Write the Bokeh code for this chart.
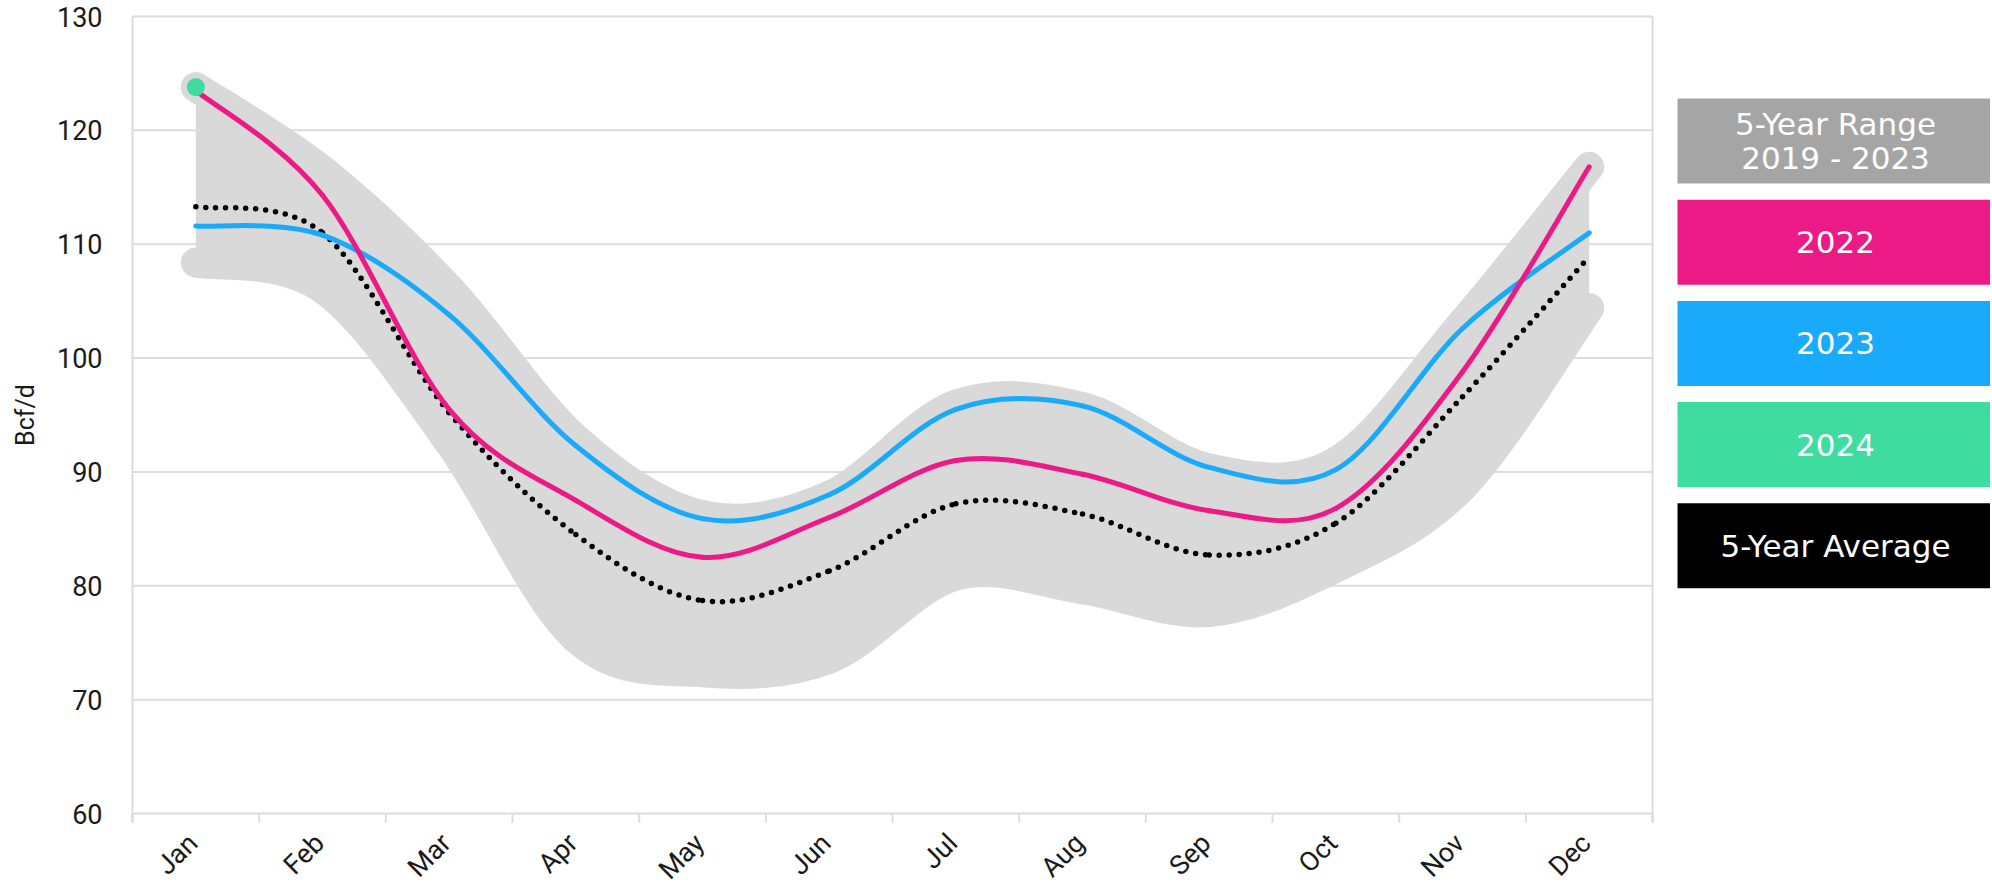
import math
from bokeh.plotting import figure
from bokeh.models import Range1d, ColumnDataSource
from bokeh.embed import file_html
from bokeh.resources import INLINE
from bokeh.core.properties import value

# ---------------- data ----------------
months = ["Jan", "Feb", "Mar", "Apr", "May", "Jun", "Jul", "Aug", "Sep", "Oct", "Nov", "Dec"]
range_max = [123.8, 116.5, 106.1, 92.9, 86.2, 87.9, 95.9, 95.7, 90.3, 90.9, 103.1, 116.8]
range_min = [108.4, 106.1, 92.6, 75.4, 72.4, 73.6, 80.9, 79.7, 77.7, 81.6, 88.7, 104.4]
avg_5yr = [113.3, 111.0, 95.2, 84.5, 78.7, 81.3, 87.2, 86.3, 82.7, 85.5, 96.6, 108.9]
y2022 = [123.5, 114.3, 95.5, 87.5, 82.5, 86.0, 91.0, 89.8, 86.6, 86.8, 98.8, 116.8]
y2023 = [111.6, 110.8, 103.8, 92.3, 85.9, 88.0, 95.5, 95.8, 90.4, 90.2, 102.6, 111.0]
y2024 = [123.8]
y_ticks = [60, 70, 80, 90, 100, 110, 120, 130]
y_tick_labels = [str(v) for v in y_ticks]
y_title = "Bcf/d"
legend_labels = ["5-Year Range\n2019 - 2023", "2022", "2023", "2024", "5-Year Average"]

# ---------------- styles / layout constants ----------------
BAND = "#d9d9d9"
PINK = "#ec1a86"
BLUE = "#1aaafb"
GREEN = "#3edc9e"
legend_colors = ["#a5a5a5", PINK, BLUE, GREEN, "#000000"]
AXIS_FONT = "Roboto"
GRID = "#dcdcdc"
TXT = "#1a1a1a"

W, H = 1990, 888
CHART_L, CHART_T = 132, 16     # pixel position of the chart's top-left corner
PX_X = 126.67                  # pixels per month
PX_Y = 11.386                  # pixels per Bcf/d
Y_MIN_AX, Y_MAX_AX = 60, 130
x_lo = -CHART_L / PX_X
x_hi = (W - CHART_L) / PX_X
y_hi = Y_MAX_AX + CHART_T / PX_Y
y_lo = Y_MAX_AX - (H - CHART_T) / PX_Y

def dx(px):
    return px / PX_X

def dy(px):
    return px / PX_Y

xc = [i + 0.5 for i in range(len(months))]
bounds = list(range(len(months) + 1))
n_m = len(months)


def bezier_source(xs, ys):
    """Cubic Bezier segments (Catmull-Rom control points) through the data points."""
    n = len(xs)
    d = dict(x0=[], y0=[], x1=[], y1=[], cx0=[], cy0=[], cx1=[], cy1=[])
    for i in range(n - 1):
        xp, yp = (xs[i - 1], ys[i - 1]) if i > 0 else (xs[i], ys[i])
        xn, yn = (xs[i + 2], ys[i + 2]) if i + 2 < n else (xs[i + 1], ys[i + 1])
        d["x0"].append(xs[i]); d["y0"].append(ys[i])
        d["x1"].append(xs[i + 1]); d["y1"].append(ys[i + 1])
        d["cx0"].append(xs[i] + (xs[i + 1] - xp) / 6.0)
        d["cy0"].append(ys[i] + (ys[i + 1] - yp) / 6.0)
        d["cx1"].append(xs[i + 1] - (xn - xs[i]) / 6.0)
        d["cy1"].append(ys[i + 1] - (yn - ys[i]) / 6.0)
    return ColumnDataSource(d)


BZ = dict(x0="x0", y0="y0", x1="x1", y1="y1", cx0="cx0", cy0="cy0", cx1="cx1", cy1="cy1")

p = figure(width=W, height=H, x_range=Range1d(x_lo, x_hi), y_range=Range1d(y_lo, y_hi),
           output_backend="svg", toolbar_location=None, min_border=0)
p.background_fill_color = "white"
p.border_fill_color = "white"
p.outline_line_color = None
p.axis.visible = False
p.grid.grid_line_color = None

# grid lines and frame borders of the chart area
p.segment(x0=[0] * len(y_ticks), x1=[n_m] * len(y_ticks), y0=y_ticks, y1=y_ticks,
          line_color=GRID, line_width=2)
p.segment(x0=[0, n_m], x1=[0, n_m], y0=[Y_MIN_AX - dy(9)] * 2, y1=[Y_MAX_AX] * 2,
          line_color=GRID, line_width=2)
# boundary ticks below the x axis
p.segment(x0=bounds, x1=bounds, y0=[Y_MIN_AX] * len(bounds), y1=[Y_MIN_AX - dy(9)] * len(bounds),
          line_color=GRID, line_width=2)

# band (5-year range)
p.varea(x=xc, y1=range_min, y2=range_max, fill_color=BAND, fill_alpha=1.0)
for ser in (range_max, range_min):
    p.bezier(**BZ, source=bezier_source(xc, ser), line_color=BAND, line_width=30,
             line_cap="round", line_join="round")

# 5-year average dotted
p.bezier(**BZ, source=bezier_source(xc, avg_5yr), line_color="black", line_width=5.5,
         line_dash="0 10", line_cap="round")
# 2023
p.bezier(**BZ, source=bezier_source(xc, y2023), line_color=BLUE, line_width=5, line_cap="round")
# 2022
p.bezier(**BZ, source=bezier_source(xc, y2022), line_color=PINK, line_width=5, line_cap="round")
# 2024
p.scatter(x=xc[:len(y2024)], y=y2024, size=18, fill_color=GREEN, line_color=None)

# month labels (rotated 45 degrees)
p.text(x=[x + dx(-3) for x in xc], y=[Y_MIN_AX - dy(25)] * n_m, text=months, angle=math.pi / 4,
       text_align="right", text_baseline="middle", text_color=TXT,
       text_font=value(AXIS_FONT), text_font_size="27px")

# y tick labels
p.text(x=[dx(-30)] * len(y_ticks), y=y_ticks, text=y_tick_labels,
       text_align="right", text_baseline="middle", text_color=TXT,
       text_font=value(AXIS_FONT), text_font_size="27px")
# y axis title
p.text(x=[dx(25 - CHART_L)], y=[(Y_MIN_AX + Y_MAX_AX) / 2], text=[y_title], angle=math.pi / 2,
       text_align="center", text_baseline="middle", text_color=TXT,
       text_font=value(AXIS_FONT), text_font_size="25px")

# ---------------- legend (boxes to the right of the chart) ----------------
LEG_LEFT_PX = 1545          # from the chart's left edge
LEG_TOP_PX = 82             # from the chart's top edge
LEG_STEP_PX = 101.2
LEG_H_PX = 85
LEG_TEXT_X_PX = 1703
tops = [Y_MAX_AX - dy(LEG_TOP_PX + LEG_STEP_PX * i) for i in range(len(legend_labels))]
p.quad(left=[dx(LEG_LEFT_PX)] * len(legend_labels), right=[x_hi + 1] * len(legend_labels),
       top=tops, bottom=[t - dy(LEG_H_PX) for t in tops],
       fill_color=legend_colors, line_color=None)
p.text(x=[dx(LEG_TEXT_X_PX)] * len(legend_labels), y=[t - dy(LEG_H_PX / 2) for t in tops],
       text=legend_labels, text_color="white", text_font=value("DejaVu Sans"),
       text_font_size="31px", text_align="center", text_baseline="middle",
       text_line_height=0.94)

open("out.html", "w").write(file_html(p, INLINE))
